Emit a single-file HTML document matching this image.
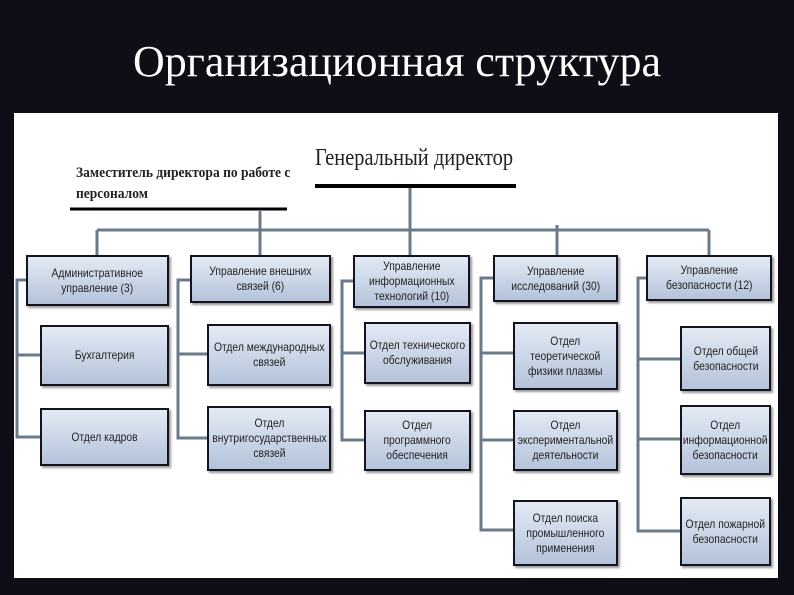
<!DOCTYPE html>
<html><head><meta charset="utf-8"><style>
html,body{margin:0;padding:0;}
body{width:794px;height:595px;background:#0d0e16;position:relative;overflow:hidden;font-family:"Liberation Sans",sans-serif;}
.title{position:absolute;left:0;width:794px;top:36px;text-align:center;color:#fff;font-family:"Liberation Serif",serif;font-size:44px;}
.panel{position:absolute;left:14px;top:113px;width:764px;height:465px;background:#fff;}
.b{position:absolute;box-sizing:border-box;border:2px solid #141420;background:linear-gradient(#e3eaf4,#b4c3da);display:flex;align-items:center;justify-content:center;text-align:center;font-size:12px;line-height:15px;color:#222;box-shadow:2px 2px 2px #999;}
.b span{display:inline-block;white-space:nowrap;transform:scaleX(0.86);}
.t{position:absolute;font-family:"Liberation Serif",serif;color:#222;}
svg{position:absolute;left:0;top:0;}
</style></head><body>
<div class="title">Организационная структура</div>
<div class="panel"></div>
<svg width="794" height="595">
<g stroke="#6a7a88" stroke-width="3" fill="none">
<line x1="97" y1="230" x2="709" y2="230"/>
<line x1="97" y1="230" x2="97" y2="256"/>
<line x1="260" y1="211" x2="260" y2="256"/>
<line x1="410" y1="188" x2="410" y2="256"/>
<line x1="557" y1="225" x2="557" y2="256"/>
<line x1="709" y1="230" x2="709" y2="256"/>
<polyline points="26,280 17,280 17,437 40,437"/><line x1="17" y1="355" x2="40" y2="355"/>
<polyline points="190,280 178,280 178,438 207,438"/><line x1="178" y1="354" x2="207" y2="354"/>
<polyline points="353,281 342,281 342,440 364,440"/><line x1="342" y1="353" x2="364" y2="353"/>
<polyline points="493,278 481,278 481,530 513,530"/><line x1="481" y1="353" x2="513" y2="353"/><line x1="481" y1="440" x2="513" y2="440"/>
<polyline points="646,278 638,278 638,531 680,531"/><line x1="638" y1="359" x2="680" y2="359"/><line x1="638" y1="439" x2="680" y2="439"/>
</g>
<line x1="315" y1="186" x2="516" y2="186" stroke="#000" stroke-width="4"/>
<line x1="70" y1="209" x2="287" y2="209" stroke="#000" stroke-width="3"/>
</svg>
<div class="t" style="left:315px;top:145px;font-size:24px;transform:scaleX(0.85);transform-origin:left;white-space:nowrap;">Генеральный директор</div>
<div class="t" style="left:76px;top:163px;font-size:15px;line-height:21px;font-weight:bold;transform:scaleX(0.9);transform-origin:left;width:260px;">Заместитель директора по работе с<br>персоналом</div>
<div class="b" style="left:26px;top:255px;width:143px;height:51px;"><span>Административное<br>управление (3)</span></div>
<div class="b" style="left:190px;top:255px;width:141px;height:48px;"><span>Управление внешних<br>связей (6)</span></div>
<div class="b" style="left:353px;top:255px;width:117px;height:53px;"><span>Управление<br>информационных<br>технологий (10)</span></div>
<div class="b" style="left:493px;top:255px;width:125px;height:47px;"><span>Управление<br>исследований (30)</span></div>
<div class="b" style="left:646px;top:255px;width:126px;height:46px;"><span>Управление<br>безопасности (12)</span></div>
<div class="b" style="left:40px;top:325px;width:129px;height:61px;"><span>Бухгалтерия</span></div>
<div class="b" style="left:207px;top:324px;width:124px;height:62px;"><span>Отдел международных<br>связей</span></div>
<div class="b" style="left:364px;top:322px;width:107px;height:62px;"><span>Отдел технического<br>обслуживания</span></div>
<div class="b" style="left:513px;top:322px;width:105px;height:68px;"><span>Отдел<br>теоретической<br>физики плазмы</span></div>
<div class="b" style="left:680px;top:326px;width:91px;height:65px;"><span>Отдел общей<br>безопасности</span></div>
<div class="b" style="left:40px;top:408px;width:129px;height:58px;"><span>Отдел кадров</span></div>
<div class="b" style="left:207px;top:406px;width:124px;height:65px;"><span>Отдел<br>внутригосударственных<br>связей</span></div>
<div class="b" style="left:364px;top:410px;width:107px;height:61px;"><span>Отдел<br>программного<br>обеспечения</span></div>
<div class="b" style="left:513px;top:410px;width:105px;height:61px;"><span>Отдел<br>экспериментальной<br>деятельности</span></div>
<div class="b" style="left:680px;top:405px;width:91px;height:70px;"><span>Отдел<br>информационной<br>безопасности</span></div>
<div class="b" style="left:513px;top:500px;width:105px;height:66px;"><span>Отдел поиска<br>промышленного<br>применения</span></div>
<div class="b" style="left:680px;top:497px;width:91px;height:69px;"><span>Отдел пожарной<br>безопасности</span></div>
</body></html>
